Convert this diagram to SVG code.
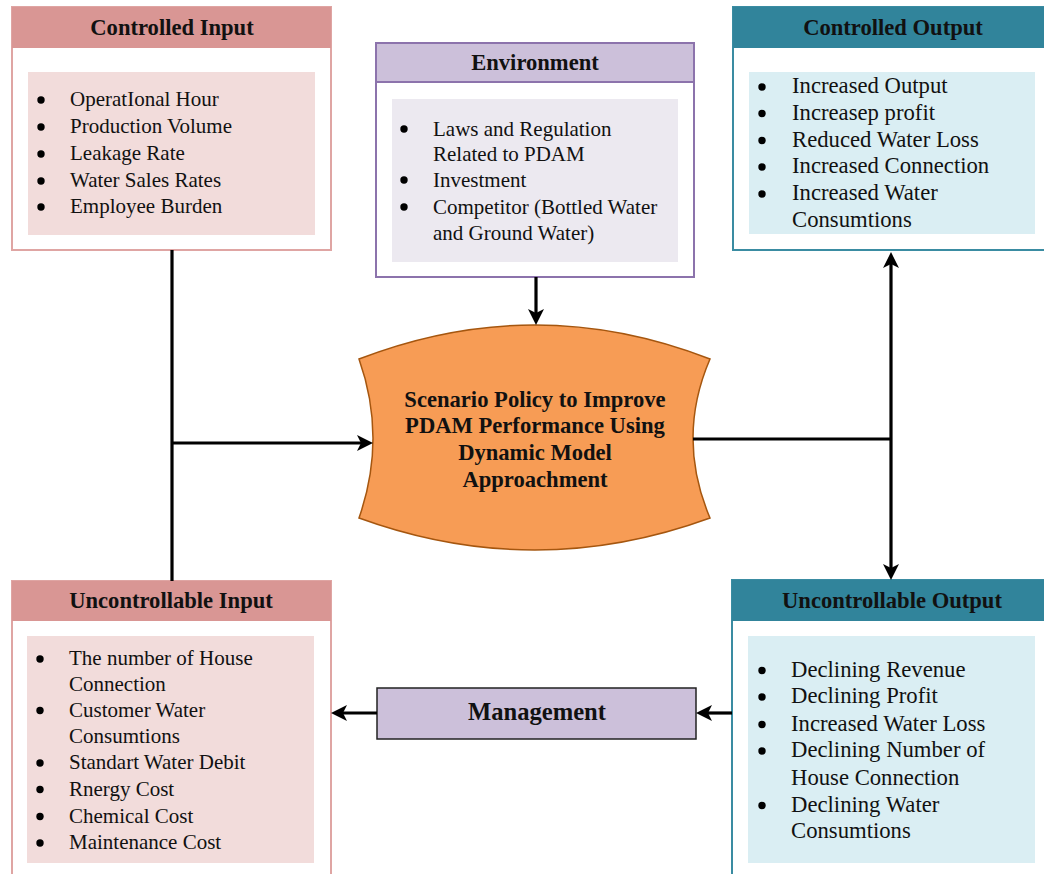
<svg xmlns="http://www.w3.org/2000/svg" width="1044" height="874" viewBox="0 0 1044 874">
<defs>
<style>
.t{font-family:"Liberation Serif","Times New Roman",serif;font-weight:bold;font-size:22.6px;fill:#111;text-anchor:middle}
.b{font-family:"Liberation Serif","Times New Roman",serif;font-size:21px;fill:#111}
.br{font-family:"Liberation Serif","Times New Roman",serif;font-size:22.7px;fill:#111}
.dot{fill:#000}
.pinkBox{fill:#fff;stroke:#DFA5A3;stroke-width:2}
.pinkHead{fill:#D99694}
.pinkIn{fill:#F2DCDB}
.tealBox{fill:#fff;stroke:#3A8CA2;stroke-width:2}
.tealHead{fill:#31849B}
.tealIn{fill:#DAEEF3}
.purBox{fill:#fff;stroke:#8C73AC;stroke-width:2}
.purHead{fill:#CCC0DA}
.purIn{fill:#ECE9F0}
.conn{stroke:#000;stroke-width:3.2;fill:none}
</style>
<marker id="ah" viewBox="0 0 16 16" refX="8" refY="8" markerWidth="16" markerHeight="16" markerUnits="userSpaceOnUse" orient="auto-start-reverse">
<path d="M0,0 L16,8 L0,16 L4,8 Z" fill="#000"/>
</marker>
</defs>
<rect width="1044" height="874" fill="#fff"/>

<g id="controlled-input">
<rect class="pinkBox" x="12" y="7" width="319" height="243"/>
<rect class="pinkHead" x="12" y="7" width="319" height="41"/>
<text class="t" x="172" y="34.5">Controlled Input</text>
<rect class="pinkIn" x="28" y="72" width="287" height="163"/>
<circle class="dot" cx="41" cy="100" r="3.7"/><text class="b" x="70" y="106">OperatIonal Hour</text>
<circle class="dot" cx="41" cy="127" r="3.7"/><text class="b" x="70" y="133">Production Volume</text>
<circle class="dot" cx="41" cy="154" r="3.7"/><text class="b" x="70" y="160">Leakage Rate</text>
<circle class="dot" cx="41" cy="181" r="3.7"/><text class="b" x="70" y="187">Water Sales Rates</text>
<circle class="dot" cx="41" cy="207" r="3.7"/><text class="b" x="70" y="213">Employee Burden</text>
</g>

<g id="environment">
<rect class="purBox" x="376" y="43" width="318" height="234"/>
<rect class="purHead" x="376" y="43" width="318" height="39"/>
<rect x="376" y="43" width="318" height="39" fill="none" stroke="#8C73AC" stroke-width="2"/>
<text class="t" x="535" y="69.5">Environment</text>
<rect class="purIn" x="392" y="99" width="286" height="163"/>
<circle class="dot" cx="404" cy="129" r="3.7"/><text class="b" x="433" y="136">Laws and Regulation</text>
<text class="b" x="433" y="161">Related to PDAM</text>
<circle class="dot" cx="404" cy="180" r="3.7"/><text class="b" x="433" y="187">Investment</text>
<circle class="dot" cx="404" cy="207" r="3.7"/><text class="b" x="433" y="214">Competitor (Bottled Water</text>
<text class="b" x="433" y="240">and Ground Water)</text>
</g>

<g id="controlled-output">
<rect class="tealBox" x="733" y="7" width="320" height="243"/>
<rect class="tealHead" x="733" y="7" width="320" height="41"/>
<text class="t" x="893" y="34.5">Controlled Output</text>
<rect class="tealIn" x="749" y="72" width="286" height="162"/>
<circle class="dot" cx="762" cy="87" r="3.7"/><text class="br" x="792" y="93">Increased Output</text>
<circle class="dot" cx="762" cy="113.5" r="3.7"/><text class="br" x="792" y="119.7">Increasep profit</text>
<circle class="dot" cx="762" cy="140.5" r="3.7"/><text class="br" x="792" y="146.5">Reduced Water Loss</text>
<circle class="dot" cx="762" cy="167" r="3.7"/><text class="br" x="792" y="173">Increased Connection</text>
<circle class="dot" cx="762" cy="194" r="3.7"/><text class="br" x="792" y="200">Increased Water</text>
<text class="br" x="792" y="227">Consumtions</text>
</g>

<g id="scenario">
<path d="M359,359 Q535,291 710,359 Q676,438 710,518 Q535,582 359,518 Q387,438 359,359 Z" fill="#F79C55" stroke="#A5560F" stroke-width="1.5"/>
<text class="t" x="535" y="406.7">Scenario Policy to Improve</text>
<text class="t" x="535" y="433">PDAM Performance Using</text>
<text class="t" x="535" y="460">Dynamic Model</text>
<text class="t" x="535" y="486.7">Approachment</text>
</g>

<g id="uncontrollable-input">
<rect class="pinkBox" x="12" y="581" width="319" height="300"/>
<rect class="pinkHead" x="12" y="581" width="319" height="40"/>
<text class="t" x="171" y="608">Uncontrollable Input</text>
<rect class="pinkIn" x="27" y="636" width="287" height="227"/>
<circle class="dot" cx="40" cy="659" r="3.7"/><text class="b" x="69" y="665">The number of House</text>
<text class="b" x="69" y="690.7">Connection</text>
<circle class="dot" cx="40" cy="710.5" r="3.7"/><text class="b" x="69" y="716.7">Customer Water</text>
<text class="b" x="69" y="742.7">Consumtions</text>
<circle class="dot" cx="40" cy="763" r="3.7"/><text class="b" x="69" y="769">Standart Water Debit</text>
<circle class="dot" cx="40" cy="789.5" r="3.7"/><text class="b" x="69" y="795.7">Rnergy Cost</text>
<circle class="dot" cx="40" cy="816.5" r="3.7"/><text class="b" x="69" y="822.7">Chemical Cost</text>
<circle class="dot" cx="40" cy="843" r="3.7"/><text class="b" x="69" y="849.3">Maintenance Cost</text>
</g>

<g id="uncontrollable-output">
<rect class="tealBox" x="732" y="580" width="320" height="300"/>
<rect class="tealHead" x="732" y="580" width="320" height="41"/>
<text class="t" x="892" y="608">Uncontrollable Output</text>
<rect class="tealIn" x="748" y="636" width="287" height="227"/>
<circle class="dot" cx="762" cy="670.5" r="3.7"/><text class="br" x="791" y="676.7">Declining Revenue</text>
<circle class="dot" cx="762" cy="697" r="3.7"/><text class="br" x="791" y="703.3">Declining Profit</text>
<circle class="dot" cx="762" cy="724.5" r="3.7"/><text class="br" x="791" y="730.7">Increased Water Loss</text>
<circle class="dot" cx="762" cy="751" r="3.7"/><text class="br" x="791" y="757">Declining Number of</text>
<text class="br" x="791" y="785">House Connection</text>
<circle class="dot" cx="762" cy="805.5" r="3.7"/><text class="br" x="791" y="811.7">Declining Water</text>
<text class="br" x="791" y="838.3">Consumtions</text>
</g>

<g id="management">
<rect x="377" y="688" width="319" height="51" fill="#CCC0DA" stroke="#222" stroke-width="1.5"/>
<text class="t" x="537" y="720" style="font-size:24.6px">Management</text>
</g>

<g id="connectors">
<line class="conn" x1="172" y1="250" x2="172" y2="581"/>
<line class="conn" x1="172" y1="443" x2="365" y2="443" marker-end="url(#ah)"/>
<line class="conn" x1="536" y1="277" x2="536" y2="317" marker-end="url(#ah)"/>
<line class="conn" x1="693" y1="439" x2="891" y2="439"/>
<line class="conn" x1="891" y1="260" x2="891" y2="572" marker-start="url(#ah)" marker-end="url(#ah)"/>
<line class="conn" x1="732" y1="713" x2="704" y2="713" marker-end="url(#ah)"/>
<line class="conn" x1="377" y1="713" x2="339" y2="713" marker-end="url(#ah)"/>
</g>
</svg>
